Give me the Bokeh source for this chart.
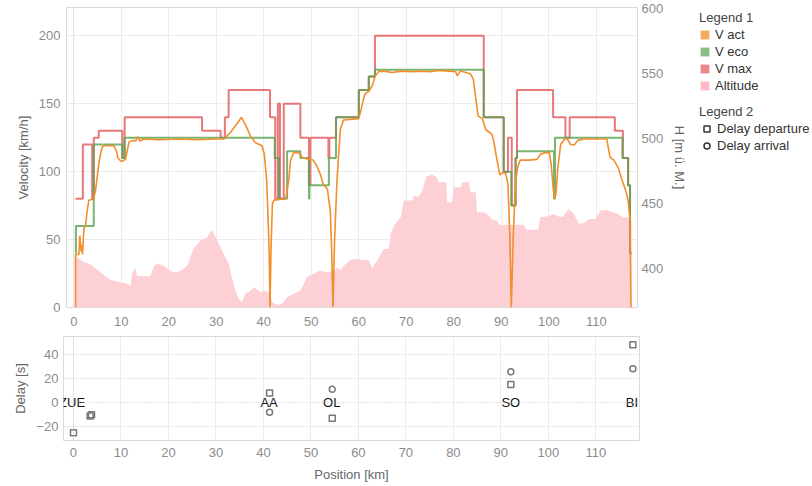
import math
from bokeh.plotting import figure
from bokeh.models import Range1d, LinearAxis, FixedTicker, Span, Legend, LegendItem
from bokeh.layouts import column, row
from bokeh.embed import file_html
from bokeh.resources import INLINE
from bokeh.core.properties import value

FONT = "Liberation Sans"

# ---------------- data ----------------
vmax_km = [0.36, 1.9, 3.87, 4.2, 5.26, 10.2, 10.7, 27.0, 30.9, 31.8, 32.6, 41.3, 42.4, 42.95, 43.4,
           44.2, 47.7, 49.5, 49.8, 53.6, 53.8, 55.2, 60.0, 62.1, 63.4, 86.3, 90.5, 91.4, 92.2, 93.0,
           93.3, 100.9, 103.5, 104.4, 113.9, 115.6, 116.7, 117.1, 117.4]
vmax_v = [80, 120, 80, 125, 130, 110, 140, 130, 125, 140, 160, 140, 80, 150, 80,
          150, 125, 90, 125, 110, 125, 140, 160, 170, 200, 140, 100, 125, 75, 110,
          160, 140, 125, 140, 130, 110, 90, 40, 40]

veco_km = [0.36, 0.45, 4.2, 10.2, 10.7, 42.3, 43.2, 44.9, 47.7, 49.5, 49.6, 53.7, 55.2, 60.0,
           62.1, 63.4, 86.3, 90.5, 92.1, 93.0, 93.3, 101.1, 101.3, 115.5, 116.7, 117.1, 117.4]
veco_v = [40, 60, 120, 110, 125, 110, 80, 115, 110, 80, 90, 110, 140, 160,
          170, 175, 140, 100, 75, 110, 115, 80, 125, 110, 90, 40, 40]

vact_km = [0.36, 0.37, 1.06, 1.27, 1.55, 1.69, 1.83, 2.11, 2.46, 2.81, 3.16, 3.87, 4.22, 4.57, 4.92,
           5.27, 5.62, 5.97, 6.32, 8.43, 8.99, 9.27, 9.83, 10.18, 10.88, 11.23, 11.59, 12.29, 12.99,
           13.48, 13.9, 14.74, 18.0, 22.0, 26.0, 30.0, 31.6, 33.0, 34.5, 35.3, 36.2, 37.2, 38.2, 39.6,
           40.1, 40.6, 40.85, 41.1, 41.3, 41.5, 41.8, 42.1, 44.6, 44.9, 45.3, 45.6, 46.3, 47.4, 48.0,
           49.5, 50.4, 51.2, 51.9, 52.5, 53.4, 54.0, 54.3, 54.55, 54.9, 55.4, 56.1, 56.8, 60.0, 60.5,
           61.1, 61.4, 62.1, 62.8, 63.5, 64.2, 65.3, 67.0, 69.0, 71.0, 73.0, 75.0, 77.0, 79.0, 80.4,
           80.7, 81.4, 83.5, 84.1, 84.6, 85.1, 86.0, 86.7, 88.0, 88.4, 89.0, 89.7, 90.4, 90.9, 91.4,
           91.8, 92.1, 92.5, 93.0, 93.5, 94.0, 95.8, 97.5, 98.3, 99.3, 100.1, 100.5, 100.9, 101.2,
           101.5, 101.9, 102.5, 103.3, 103.9, 104.6, 105.4, 106.1, 107.4, 112.2, 112.9, 113.7, 114.6,
           115.5, 116.2, 116.7, 117.1, 117.3]
vact_v = [0, 39, 39, 53, 41, 46, 39, 58, 60, 71, 79, 79.5, 81, 86, 96,
          106, 113, 118, 119, 119, 115, 110, 108, 107.5, 109, 115, 121.5, 123, 122.5,
          125.7, 122.5, 124, 123.5, 124, 123.5, 124, 124, 129, 136, 140, 134, 126, 121.5, 119,
          113, 94, 70, 45, 0, 40, 76, 79, 80, 86, 95, 108, 114, 114, 110.5,
          109, 108.5, 104, 98, 91, 87, 71, 40, 0, 50, 93, 131, 138, 139, 146,
          155, 157.6, 159, 163, 170.5, 173.8, 174, 173, 174, 173.5, 174, 173.5, 174.5, 174, 173.5,
          170.5, 174, 172, 168, 154.6, 141, 139, 131, 127.6, 122.6, 110.4, 97.6, 99.4, 98.7, 91,
          51.6, 0, 51.6, 93.3, 104, 108.5, 108.5, 109, 113, 114, 114, 105.6, 88.4, 80,
          83.6, 103, 120, 124, 124, 119.8, 119.8, 123, 124, 124, 110.5, 108.5, 103,
          93, 86, 78.6, 64, 0]

alt_km = [0.36, 1.06, 2.11, 3.51, 4.92, 6.32, 7.72, 9.13, 10.53, 11.94, 12.29, 12.99, 13.34, 16.15,
          16.85, 17.55, 18.95, 19.66, 21.06, 22.46, 23.87, 24.57, 25.3, 26.7, 28.1, 28.8, 29.3, 30.2,
          31.6, 32.6, 33.3, 34.0, 34.7, 35.4, 36.1, 37.2, 37.9, 39.3, 40.4, 41.3, 41.8, 42.8, 43.9,
          44.9, 46.3, 47.7, 48.4, 49.2, 50.5, 51.9, 53.3, 55.0, 55.4, 56.1, 56.8, 58.2, 60.0, 60.4,
          62.1, 62.8, 63.9, 65.3, 66.3, 66.7, 67.4, 68.8, 69.5, 71.3, 71.6, 72.5, 73.3, 74.2, 75.4,
          76.5, 76.8, 78.4, 78.6, 79.6, 80.0, 81.4, 81.8, 83.2, 83.5, 84.6, 84.9, 86.3, 87.4, 88.1,
          89.2, 89.5, 91.9, 94.7, 95.4, 97.8, 98.2, 99.6, 101.1, 102.1, 102.8, 104.2, 105.3, 106.3,
          107.4, 108.4, 109.8, 110.9, 112.3, 113.7, 114.6, 115.5, 116.9, 117.2, 117.4]
alt_h = [410, 407.7, 405, 403, 399, 395, 391.3, 390, 389, 387, 397, 400, 394, 394,
         402, 404, 402, 400, 397, 398, 402, 409, 416, 421.5, 424, 429, 428, 421.5,
         411, 403.6, 393, 383, 376.7, 374, 380.5, 383, 385.6, 382, 383, 380, 374, 372, 373,
         378, 380.5, 383, 388, 394, 396, 398.5, 397, 398.5, 401, 398.5, 402, 406.7, 407.4, 406.7,
         406.5, 400, 406.5, 415, 415, 426.7, 433, 439.5, 452.3, 452.3, 456, 455, 459.5, 470.8, 472.3,
         470, 466.4, 466.4, 451, 451, 462.5, 462.5, 466.4, 466.4, 458.7, 458.7, 443.3, 443, 440.8, 437.4,
         437, 433.6, 433.6, 433.6, 429.7, 430, 439.5, 440, 442, 440, 439.5, 446, 442, 434.4,
         435, 438, 438, 444.6, 445, 443, 442, 439.5, 439.5, 437, 437]
alt_base = 370

dep_km = [0.0, 3.5, 3.8, 41.3, 54.5, 92.1, 117.8]
dep_s = [-25, -11, -10, 8, -13, 15, 48]
arr_km = [41.3, 54.5, 92.1, 117.8]
arr_s = [-8, 11, 25.5, 28]

stations = ["ZUE", "AA", "OL", "SO", "BI"]
station_km = [-0.3, 41.2, 54.4, 92.1, 117.6]
station_s = [0, 0, 0, 0, 0]

x_ticks = [0, 10, 20, 30, 40, 50, 60, 70, 80, 90, 100, 110]
v_ticks = [0, 50, 100, 150, 200]
h_ticks = [400, 450, 500, 550, 600]
d_ticks = [-20, 0, 20, 40]

# ---------------- colours ----------------
C_ACT = "#f28e2b"
C_ECO = "#59a14f"
C_MAX = "#e15759"
C_ALT = "#fdd0d6"
GRID = "#ececec"
FRAME = "#d9d9d9"
TICK = "#8c8c8c"
LAB = "#666666"


def style_axis(ax, standoff=5):
    ax.axis_line_color = None
    ax.major_tick_line_color = None
    ax.minor_tick_line_color = None
    ax.major_tick_out = 0
    ax.major_label_text_font = FONT
    ax.major_label_text_font_size = "13px"
    ax.major_label_text_color = TICK
    ax.major_label_standoff = standoff
    ax.axis_label_text_font = FONT
    ax.axis_label_text_font_size = "13px"
    ax.axis_label_text_color = LAB
    ax.axis_label_text_font_style = "normal"
    ax.axis_label_standoff = 5


# ---------------- top figure ----------------
p = figure(width=695, height=331, x_range=Range1d(-1.54, 118.67), y_range=Range1d(0, 220.8),
           output_backend="svg", toolbar_location=None,
           min_border_left=66, min_border_right=58, min_border_top=7, min_border_bottom=24)
p.title.visible = False
p.extra_y_ranges = {"alt": Range1d(370, 600.8)}
p.outline_line_color = FRAME

p.varea(x=alt_km, y1=[alt_base] * len(alt_km), y2=alt_h, y_range_name="alt",
        fill_color=C_ALT, fill_alpha=1.0)
p.step(vmax_km, vmax_v, mode="after", line_color=C_MAX, line_width=2, line_alpha=0.8)
p.step(veco_km, veco_v, mode="after", line_color=C_ECO, line_width=2, line_alpha=0.8)
p.line(vact_km, vact_v, line_color=C_ACT, line_width=1.6)

p.add_layout(Span(location=0, dimension="height", line_color="#c8c8c8", line_dash="1 2", line_width=1))

p.xaxis.ticker = FixedTicker(ticks=x_ticks)
p.yaxis.ticker = FixedTicker(ticks=v_ticks)
p.xgrid.ticker = FixedTicker(ticks=x_ticks)
p.ygrid.ticker = FixedTicker(ticks=v_ticks)
p.xgrid.grid_line_color = GRID
p.ygrid.grid_line_color = GRID
p.yaxis.axis_label = "Velocity [km/h]"
style_axis(p.xaxis[0], standoff=9)
style_axis(p.yaxis[0], standoff=6)

ax_r = LinearAxis(y_range_name="alt", axis_label="H [m ü. M.]", ticker=FixedTicker(ticks=h_ticks))
style_axis(ax_r, standoff=4)
ax_r.axis_label_standoff = 6
p.add_layout(ax_r, "right")

# ---------------- legend panel ----------------
lf = figure(width=115, height=331, x_range=Range1d(0, 1), y_range=Range1d(0, 1),
            output_backend="svg", toolbar_location=None, min_border=0,
            x_axis_location=None, y_axis_location=None)
lf.title.visible = False
lf.outline_line_color = None
lf.grid.visible = False

nan = [math.nan]
r_act = lf.quad(left=nan, right=nan, top=nan, bottom=nan, fill_color=C_ACT, fill_alpha=0.75, line_color=None)
r_eco = lf.quad(left=nan, right=nan, top=nan, bottom=nan, fill_color=C_ECO, fill_alpha=0.7, line_color=None)
r_max = lf.quad(left=nan, right=nan, top=nan, bottom=nan, fill_color=C_MAX, fill_alpha=0.7, line_color=None)
r_alt = lf.quad(left=nan, right=nan, top=nan, bottom=nan, fill_color="#ffbac4", line_color=None)
r_dep = lf.scatter(nan, nan, marker="square", fill_color=None, line_color="#333333", line_width=1.5)
r_arr = lf.scatter(nan, nan, marker="circle", fill_color=None, line_color="#333333", line_width=1.5)


def style_legend(lg):
    lg.title_text_font = FONT
    lg.title_text_font_size = "13px"
    lg.title_text_font_style = "normal"
    lg.title_text_color = "#444444"
    lg.title_standoff = 1
    lg.label_text_font = FONT
    lg.label_text_font_size = "13px"
    lg.label_text_color = "#333333"
    lg.label_height = 17
    lg.padding = 0
    lg.margin = 0
    lg.spacing = 0
    lg.border_line_color = None
    lg.background_fill_alpha = 0


leg1 = Legend(items=[LegendItem(label="V act", renderers=[r_act]),
                     LegendItem(label="V eco", renderers=[r_eco]),
                     LegendItem(label="V max", renderers=[r_max]),
                     LegendItem(label="Altitude", renderers=[r_alt])],
              title="Legend 1", location=(4, 213))
style_legend(leg1)
leg1.glyph_width = 11
leg1.glyph_height = 11
leg1.label_standoff = 5

leg2 = Legend(items=[LegendItem(label="Delay departure", renderers=[r_dep]),
                     LegendItem(label="Delay arrival", renderers=[r_arr])],
              title="Legend 2", location=(4, 153))
style_legend(leg2)
leg2.glyph_width = 15
leg2.glyph_height = 17
leg2.label_standoff = 3

lf.add_layout(leg1, "center")
lf.add_layout(leg2, "center")

# ---------------- bottom figure ----------------
q = figure(width=810, height=153, x_range=Range1d(-2.1, 119.2), y_range=Range1d(-31.4, 54.8),
           output_backend="svg", toolbar_location=None,
           min_border_left=63, min_border_right=171, min_border_top=5, min_border_bottom=42)
q.title.visible = False
q.outline_line_color = FRAME
q.xaxis.ticker = FixedTicker(ticks=x_ticks)
q.yaxis.ticker = FixedTicker(ticks=d_ticks)
q.xgrid.ticker = FixedTicker(ticks=x_ticks)
q.ygrid.ticker = FixedTicker(ticks=[-20, 20, 40])
q.xgrid.grid_line_color = GRID
q.ygrid.grid_line_color = GRID
q.xaxis.axis_label = "Position [km]"
q.yaxis.axis_label = "Delay [s]"
style_axis(q.xaxis[0], standoff=7)
style_axis(q.yaxis[0], standoff=5)
q.xaxis[0].axis_label_standoff = 7

q.add_layout(Span(location=0, dimension="height", line_color="#c8c8c8", line_dash="1 2", line_width=1))
q.add_layout(Span(location=0, dimension="width", line_color="#c8c8c8", line_dash="1 2", line_width=1))

q.text(x=station_km, y=station_s, text=stations, text_align="center", text_baseline="middle",
       text_font=value(FONT), text_font_size="13px", text_color="#111111")
q.scatter(dep_km, dep_s, marker="square", size=6, fill_color=None, line_color="#777777", line_width=1.5)
q.scatter(arr_km, arr_s, marker="circle", size=6, fill_color=None, line_color="#777777", line_width=1.5)

layout = column(row(p, lf, spacing=0), q, spacing=0)
open("out.html", "w").write(file_html(layout, INLINE))
